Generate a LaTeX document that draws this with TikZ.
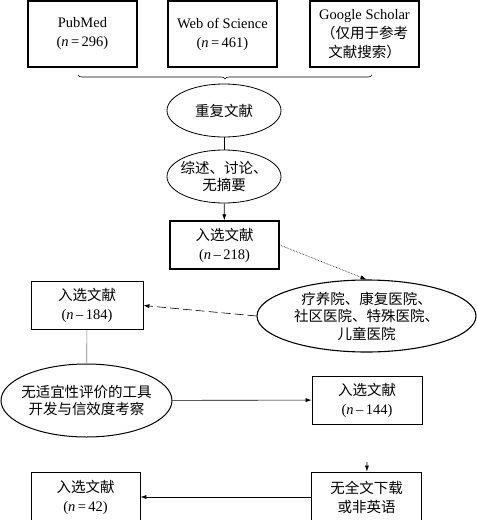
\documentclass[tikz,border=0pt]{standalone}
\usepackage{fontspec}
\setmainfont{Liberation Serif}
\newfontfamily\cjk{Noto Sans CJK SC}
\usepackage{tikz}
\usetikzlibrary{arrows.meta,positioning,shapes.geometric,decorations.pathreplacing}
\tikzset{
  srcbox/.style={draw, line width=1.3pt, align=center, minimum width=109pt, minimum height=66pt, inner sep=2pt, font=\fontsize{14.5}{19}\selectfont},
  selbox/.style={draw, line width=0.8pt, align=center, minimum width=109pt, minimum height=48pt, inner sep=2pt, font=\fontsize{14.5}{19}\selectfont},
  exclell/.style={draw, ellipse, line width=0.8pt, align=center, inner sep=0pt, font=\cjk\fontsize{14.5}{17.5}\selectfont},
  flowarrow/.style={-{Latex[length=6pt,width=4pt]}, line width=0.6pt},
  flowline/.style={line width=0.6pt}
}
\begin{document}
\begin{tikzpicture}[x=1pt, y=-1pt]
\useasboundingbox (0,0) rectangle (477,520);
\node[srcbox] (pubmed) at (82.5,34) {PubMed\\(\textit{n}\,=\,296)};
\node[srcbox] (wos) at (222.5,34) {Web of Science\\(\textit{n}\,=\,461)};
\node[srcbox] (scholar) at (364.5,34) {Google Scholar\\{\cjk （仅用于参考}\\{\cjk 文献搜索）}};
\coordinate (braceL) at (78,75);
\coordinate (braceR) at (372,75);
\draw[line width=0.6pt, decorate, decoration={brace, mirror, amplitude=4pt}] (braceL) -- (braceR);
\node[exclell, minimum width=114pt, minimum height=53pt] (dup) at (224,110.5) {重复文献};
\node[exclell, minimum width=114pt, minimum height=53pt, inner xsep=-7pt] (review) at (224,176.5) {综述、讨论、\\无摘要};
\node[selbox, line width=1.3pt] (sel218) at (224.5,245) {{\cjk 入选文献}\\(\textit{n}\,–\,218)};
\node[exclell, line width=1.1pt, minimum width=219pt, minimum height=72pt] (hosp) at (366.5,316) {疗养院、康复医院、\\社区医院、特殊医院、\\儿童医院};
\node[selbox, minimum width=112pt] (sel184) at (87,305.5) {{\cjk 入选文献}\\(\textit{n}\,–\,184)};
\node[exclell, line width=1pt, minimum width=171pt, minimum height=73pt, inner xsep=-9pt] (nosuit) at (86.5,400.5) {无适宜性评价的工具\\开发与信效度考察};
\node[selbox, minimum width=110pt] (sel144) at (367,400) {{\cjk 入选文献}\\(\textit{n}\,–\,144)};
\coordinate (stub) at (367,462);
\node[selbox, minimum width=110pt, minimum height=50pt] (nofull) at (366.5,497) {{\cjk 无全文下载}\\{\cjk 或非英语}};
\node[selbox, minimum height=50pt] (sel42) at (85.5,497) {{\cjk 入选文献}\\(\textit{n}\,=\,42)};
\draw[flowline] (dup) -- (review);
\draw[flowarrow] (review) -- (sel218);
\draw[flowarrow, densely dotted] (sel218.east) -- (hosp.north);
\draw[flowarrow, dash pattern=on 9pt off 4pt] (hosp.west) -- (sel184.east);
\draw[flowline, gray] (sel184) -- (nosuit);
\draw[flowarrow] (nosuit) -- (sel144);
\draw[flowarrow] (stub) -- (nofull);
\draw[flowarrow] (nofull) -- (sel42);
\end{tikzpicture}
\end{document}
